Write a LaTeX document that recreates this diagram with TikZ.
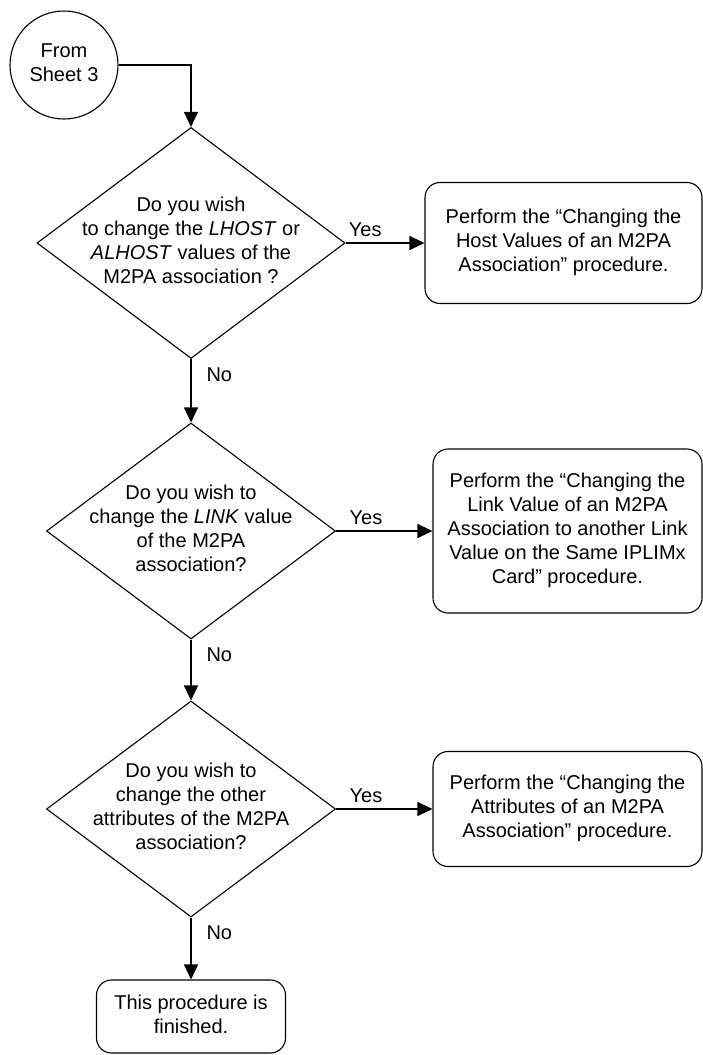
\documentclass[tikz,border=0pt]{standalone}
\usepackage{fontspec}
\setmainfont{Liberation Sans}
\usetikzlibrary{shapes.geometric,arrows.meta,positioning}
\begin{document}
\begin{tikzpicture}[x=1pt,y=-1pt,line width=1.1pt,font=\fontsize{20}{24}\selectfont,>={Triangle[length=15pt,width=14pt]}, sheet/.style={draw,circle,minimum size=108pt,inner sep=0pt}, decision/.style={draw,diamond,inner sep=0pt,minimum width=289pt,minimum height=216pt}, procbox/.style={draw,rectangle,rounded corners=15pt,inner sep=0pt,minimum width=269pt}, yesno/.style={inner sep=3pt}]
\useasboundingbox (0,0) rectangle (703,1055);
\node[sheet] (sheet) at (64,65) {\begin{tabular}{c} From\\ Sheet 3 \end{tabular}};
\node[decision,minimum width=308pt,minimum height=231pt,label={center:{\begin{tabular}{c} Do you wish\\ to change the \textit{LHOST} or\\ \textit{ALHOST} values of the\\ M2PA association ? \end{tabular}}}] (lhost) at (191,243) {};
\node[decision,label={center:{\begin{tabular}{c} Do you wish to\\ change the \textit{LINK} value\\ of the M2PA\\ association? \end{tabular}}}] (link) at (191,531) {};
\node[decision,label={center:{\begin{tabular}{c} Do you wish to\\ change the other\\ attributes of the M2PA\\ association? \end{tabular}}}] (attr) at (191,809) {};
\node[procbox,minimum width=277pt,minimum height=121pt] (hostproc) at (563.5,243) {\begin{tabular}{c} Perform the “Changing the\\ Host Values of an M2PA\\ Association” procedure. \end{tabular}};
\node[procbox,minimum height=164pt] (linkproc) at (567.5,531) {\begin{tabular}{c} Perform the “Changing the\\ Link Value of an M2PA\\ Association to another Link\\ Value on the Same IPLIMx\\ Card” procedure. \end{tabular}};
\node[procbox,minimum height=115pt] (attrproc) at (567.5,809) {\begin{tabular}{c} Perform the “Changing the\\ Attributes of an M2PA\\ Association” procedure. \end{tabular}};
\node[procbox,minimum width=189pt,minimum height=73pt] (done) at (191,1016.5) {\begin{tabular}{c} This procedure is\\ finished. \end{tabular}};
\draw[->] (sheet.east) -| (lhost.north);
\draw[->] (lhost.east) -- node[yesno,above=3pt,pos=0.25]{Yes} (hostproc.west);
\draw[->] (link.east) -- node[yesno,above=3pt,pos=0.31]{Yes} (linkproc.west);
\draw[->] (attr.east) -- node[yesno,above=3pt,pos=0.31]{Yes} (attrproc.west);
\draw[->] (lhost.south) -- node[yesno,right=12pt,pos=0.25]{No} (link.north);
\draw[->] (link.south) -- node[yesno,right=12pt,pos=0.25]{No} (attr.north);
\draw[->] (attr.south) -- node[yesno,right=12pt,pos=0.25]{No} (done.north);
\end{tikzpicture}
\end{document}
